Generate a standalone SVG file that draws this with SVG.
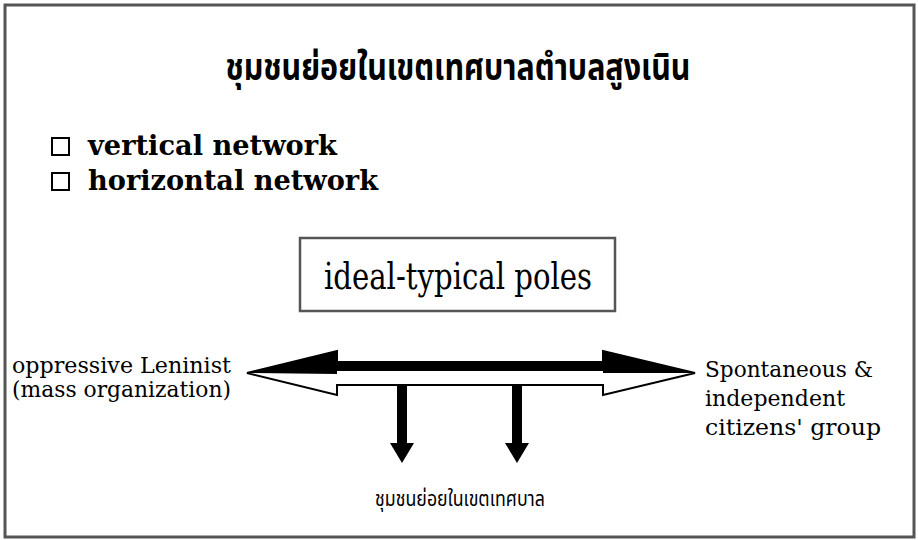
<svg xmlns="http://www.w3.org/2000/svg" width="918" height="540" viewBox="0 0 918 540">
<style>
.thai{font-family:"Noto Sans Thai","Noto Sans","DejaVu Sans",sans-serif;fill:#000}
.bold{font-family:"DejaVu Serif","Liberation Serif",serif;font-weight:bold;fill:#000}
.ser{font-family:"DejaVu Serif","Liberation Serif",serif;fill:#000}
.frame{fill:#fff;stroke:#555;stroke-width:3}
.chk{fill:none;stroke:#000;stroke-width:2}
</style>
<rect class="frame" x="5" y="5" width="909" height="532"/>
<g id="title">
<text class="thai" x="458" y="80" font-size="38" font-weight="bold" text-anchor="middle" textLength="465" lengthAdjust="spacingAndGlyphs">ชุมชนย่อยในเขตเทศบาลตำบลสูงเนิน</text>
</g>
<g id="list">
<rect class="chk" x="52" y="138" width="17" height="17"/>
<text class="bold" x="88" y="155" font-size="28" textLength="249" lengthAdjust="spacingAndGlyphs">vertical network</text>
<rect class="chk" x="52" y="173" width="17" height="17"/>
<text class="bold" x="88" y="190" font-size="28" textLength="290" lengthAdjust="spacingAndGlyphs">horizontal network</text>
</g>
<g id="poles">
<rect x="300" y="238" width="315" height="73" fill="#fff" stroke="#555" stroke-width="2.5"/>
<text class="ser" x="458" y="289" font-size="38" text-anchor="middle" textLength="268" lengthAdjust="spacingAndGlyphs">ideal-typical poles</text>
</g>
<g id="left-pole">
<text class="ser" x="12" y="373" font-size="22" textLength="219" lengthAdjust="spacingAndGlyphs">oppressive Leninist</text>
<text class="ser" x="12" y="397" font-size="22" textLength="219" lengthAdjust="spacingAndGlyphs">(mass organization)</text>
</g>
<g id="right-pole">
<text class="ser" x="705" y="377" font-size="22" textLength="168" lengthAdjust="spacingAndGlyphs">Spontaneous &amp;</text>
<text class="ser" x="705" y="406" font-size="22" textLength="140" lengthAdjust="spacingAndGlyphs">independent</text>
<text class="ser" x="705" y="435" font-size="22" textLength="176" lengthAdjust="spacingAndGlyphs">citizens' group</text>
</g>
<g id="bottom">
<text class="thai" x="460" y="506" font-size="22" text-anchor="middle" textLength="170" lengthAdjust="spacingAndGlyphs">ชุมชนย่อยในเขตเทศบาล</text>
</g>
<g id="connectors">
<polygon points="247,373 337,351 337,362 603,362 603,351 695,373 603,395 603,385 337,385 337,395" fill="#fff" stroke="#000" stroke-width="2" stroke-linejoin="miter"/>
<polygon points="247,373 337,351 337,361 603,361 603,351 695,373 603,373 603,371 337,371 337,374" fill="#000"/>
<rect x="397" y="385" width="10" height="59" fill="#000"/>
<polygon points="390,443 414,443 402,463" fill="#000"/>
<rect x="512" y="385" width="10" height="59" fill="#000"/>
<polygon points="505,443 529,443 517,463" fill="#000"/>
</g>
</svg>
